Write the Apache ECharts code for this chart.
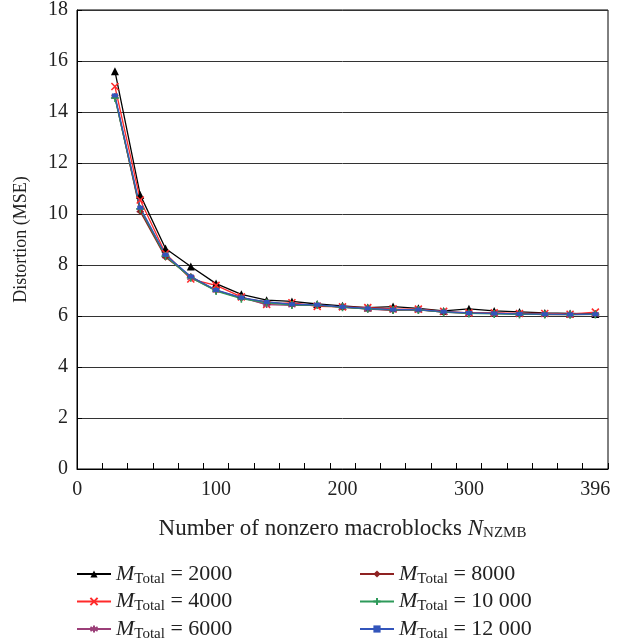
<!DOCTYPE html>
<html>
<head>
<meta charset="utf-8">
<script src="https://cdn.jsdelivr.net/npm/echarts@6/dist/echarts.min.js"></script>
<style>
  html, body { margin: 0; padding: 0; background: #fff; }
</style>
</head>
<body>
<div id="main" style="width: 624px; height: 644px;"></div>
<script>
// categories on the x axis (first bin is empty, last is 396)
const categories = ["0", "20", "40", "60", "80", "100", "120", "140", "160", "180", "200",
  "220", "240", "260", "280", "300", "320", "340", "360", "380", "396"];
const shownLabels = ["0", "100", "200", "300", "396"];

// distortion (MSE) per M_Total
const m2000 = [null, 15.6, 10.75, 8.65, 7.94, 7.27, 6.85, 6.62, 6.57, 6.47, 6.40, 6.33, 6.37, 6.30, 6.20, 6.28, 6.20, 6.16, 6.12, 6.10, 6.08];
const m4000 = [null, 15.0, 10.55, 8.45, 7.45, 7.20, 6.75, 6.45, 6.52, 6.38, 6.36, 6.33, 6.28, 6.27, 6.18, 6.12, 6.12, 6.10, 6.10, 6.07, 6.15];
const m6000 = [null, 14.6, 10.15, 8.35, 7.50, 7.00, 6.72, 6.45, 6.42, 6.44, 6.35, 6.27, 6.22, 6.24, 6.15, 6.10, 6.10, 6.08, 6.06, 6.05, 6.06];
const m8000 = [null, 14.6, 10.10, 8.30, 7.55, 7.00, 6.70, 6.55, 6.45, 6.42, 6.35, 6.28, 6.23, 6.25, 6.15, 6.12, 6.10, 6.08, 6.05, 6.06, 6.08];
const m10000 = [null, 14.55, 10.20, 8.35, 7.50, 6.98, 6.68, 6.52, 6.43, 6.43, 6.34, 6.28, 6.24, 6.24, 6.15, 6.10, 6.08, 6.06, 6.06, 6.05, 6.06];
const m12000 = [null, 14.65, 10.25, 8.40, 7.55, 7.02, 6.72, 6.55, 6.46, 6.44, 6.36, 6.30, 6.25, 6.25, 6.17, 6.12, 6.10, 6.08, 6.07, 6.06, 6.07];

const seriesNames = ["2000", "4000", "6000", "8000", "10 000", "12 000"];
const yTicks = [0, 2, 4, 6, 8, 10, 12, 14, 16, 18];

const serif = "'Liberation Serif', 'DejaVu Serif', serif";

const chartDom = document.getElementById("main");
const myChart = echarts.init(chartDom);

function makeSeries(name, data, color, symbol, size, stroke) {
  return {
    name: name,
    type: "line",
    data: data,
    symbol: symbol,
    symbolSize: size,
    showSymbol: true,
    connectNulls: false,
    lineStyle: { color: color, width: 1.3 },
    itemStyle: stroke
      ? { color: color, borderColor: color, borderWidth: 1.6 }
      : { color: color },
    emphasis: { disabled: true },
    animation: false
  };
}

// legend label: italic M, subscript "Total"
const legendText = {
  fontFamily: serif,
  fontSize: 22,
  color: "#222",
  rich: {
    m: { fontFamily: serif, fontSize: 22, fontStyle: "italic", color: "#222" },
    s: { fontFamily: serif, fontSize: 15, color: "#222", padding: [10, 0, 0, 0] },
    t: { fontFamily: serif, fontSize: 22, color: "#222" }
  }
};
const legendFmt = name => "{m|M}{s|Total}{t| = " + name + "}";

const option = {
  backgroundColor: "#fff",
  animation: false,
  grid: {
    left: 77, right: 16, top: 10, bottom: 175,
    show: true, borderColor: "#000", borderWidth: 1
  },
  legend: [
    {
      orient: "vertical", left: 76, top: 563, padding: 0,
      itemWidth: 34, itemHeight: 9, itemGap: 4,
      data: seriesNames.slice(0, 3),
      formatter: legendFmt, textStyle: legendText
    },
    {
      orient: "vertical", left: 359, top: 563, padding: 0,
      itemWidth: 34, itemHeight: 9, itemGap: 4,
      data: seriesNames.slice(3),
      formatter: legendFmt, textStyle: legendText
    }
  ],
  xAxis: {
    type: "category",
    data: categories,
    boundaryGap: true,
    name: "{a|Number of nonzero macroblocks }{n|N}{s|NZMB}",
    nameLocation: "middle",
    nameGap: 47,
    nameTextStyle: {
      rich: {
        a: { fontFamily: serif, fontSize: 23, color: "#222" },
        n: { fontFamily: serif, fontSize: 23, fontStyle: "italic", color: "#222" },
        s: { fontFamily: serif, fontSize: 15, color: "#222", padding: [10, 0, 0, 0] }
      }
    },
    axisLine: { lineStyle: { color: "#000", width: 1 } },
    axisTick: { show: true, inside: true, length: 6, interval: 0, lineStyle: { color: "#000" } },
    axisLabel: {
      interval: 0,
      margin: 11,
      formatter: v => shownLabels.indexOf(v) < 0 ? "" : (v === "0" ? "{z|0}" : v),
      fontFamily: serif, fontSize: 20, color: "#222",
      rich: { z: { fontFamily: serif, fontSize: 20, color: "#222", padding: [0, 25, 0, 0] } }
    },
    splitLine: { show: false }
  },
  yAxis: {
    type: "value",
    min: yTicks[0],
    max: yTicks[yTicks.length - 1],
    interval: 2,
    name: "Distortion (MSE)",
    nameLocation: "middle",
    nameGap: 47,
    nameRotate: 90,
    nameTextStyle: { fontFamily: serif, fontSize: 18, color: "#222" },
    axisLine: { show: true, lineStyle: { color: "#000", width: 1 } },
    axisTick: { show: true, inside: true, length: 5, lineStyle: { color: "#000" } },
    axisLabel: { margin: 9, fontFamily: serif, fontSize: 20, color: "#222" },
    splitLine: { show: true, lineStyle: { color: "#333", width: 1 } }
  },
  series: [
    makeSeries("2000", m2000, "#000000", "triangle", 8, false),
    makeSeries("4000", m4000, "#ff2a2a", "path://M0,0L10,10M10,0L0,10", 7, true),
    makeSeries("6000", m6000, "#9b3f78", "path://M5,0L5,10M0,2.5L10,7.5M0,7.5L10,2.5", 7, true),
    makeSeries("8000", m8000, "#8e2222", "diamond", 7, false),
    makeSeries("10 000", m10000, "#2e9a5a", "path://M5,0L5,10M0,5L10,5", 8, true),
    makeSeries("12 000", m12000, "#3355bb", "rect", [6, 4], false)
  ]
};

option && myChart.setOption(option);
</script>
</body>
</html>
